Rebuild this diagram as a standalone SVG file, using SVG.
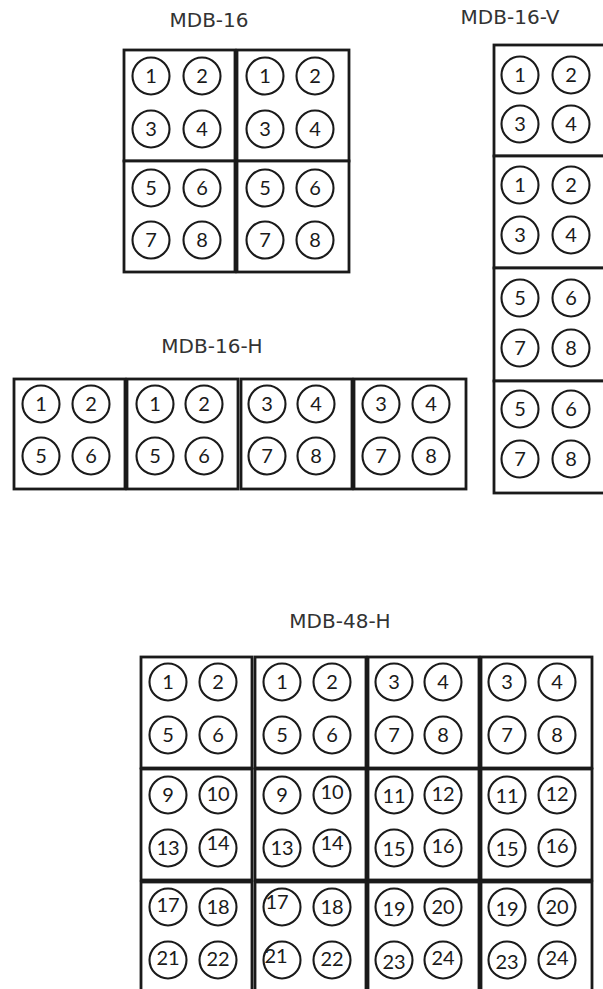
<svg xmlns="http://www.w3.org/2000/svg" width="603" height="989" viewBox="0 0 603 989">
<style>
.box{fill:#fff;stroke:#1a1a1a;stroke-width:2.8}
.c{fill:none;stroke:#1a1a1a;stroke-width:2.1}
.n{font-family:"Lato","Liberation Sans",sans-serif;font-size:20px;fill:#1a1a1a;text-anchor:middle}
.t{font-family:"DejaVu Sans",Verdana,sans-serif;font-size:20px;fill:#333;text-anchor:middle}
</style>
<rect width="603" height="989" fill="#fff"/>
<g id="labels">
<text class="t" x="209" y="27">MDB-16</text>
<text class="t" x="510" y="24">MDB-16-V</text>
<text class="t" x="212" y="353">MDB-16-H</text>
<text class="t" x="340" y="628">MDB-48-H</text>
</g>
<g id="connectors"/>
<!-- MDB-16 -->
<g id="mdb16-tl"><rect class="box" x="124" y="50" width="111" height="111"/>
<circle class="c" cx="151" cy="76" r="18.5"/><circle class="c" cx="202" cy="76" r="18.5"/><circle class="c" cx="151" cy="129" r="18.5"/><circle class="c" cx="202" cy="129" r="18.5"/>
<text class="n" x="151" y="83">1</text><text class="n" x="202" y="83">2</text><text class="n" x="151" y="136">3</text><text class="n" x="202" y="136">4</text></g>
<g id="mdb16-tr"><rect class="box" x="237" y="50" width="112" height="111"/>
<circle class="c" cx="265" cy="76" r="18.5"/><circle class="c" cx="315" cy="76" r="18.5"/><circle class="c" cx="265" cy="129" r="18.5"/><circle class="c" cx="315" cy="129" r="18.5"/>
<text class="n" x="265" y="83">1</text><text class="n" x="315" y="83">2</text><text class="n" x="265" y="136">3</text><text class="n" x="315" y="136">4</text></g>
<g id="mdb16-bl"><rect class="box" x="124" y="161" width="111" height="111"/>
<circle class="c" cx="151" cy="188" r="18.5"/><circle class="c" cx="202" cy="188" r="18.5"/><circle class="c" cx="151" cy="240" r="18.5"/><circle class="c" cx="202" cy="240" r="18.5"/>
<text class="n" x="151" y="195">5</text><text class="n" x="202" y="195">6</text><text class="n" x="151" y="247">7</text><text class="n" x="202" y="247">8</text></g>
<g id="mdb16-br"><rect class="box" x="237" y="161" width="112" height="111"/>
<circle class="c" cx="265" cy="188" r="18.5"/><circle class="c" cx="315" cy="188" r="18.5"/><circle class="c" cx="265" cy="240" r="18.5"/><circle class="c" cx="315" cy="240" r="18.5"/>
<text class="n" x="265" y="195">5</text><text class="n" x="315" y="195">6</text><text class="n" x="265" y="247">7</text><text class="n" x="315" y="247">8</text></g>
<!-- MDB-16-V -->
<g id="mdb16v-1"><rect class="box" x="494" y="45" width="112" height="111"/>
<circle class="c" cx="520" cy="75" r="18.5"/><circle class="c" cx="571" cy="75" r="18.5"/><circle class="c" cx="520" cy="124" r="18.5"/><circle class="c" cx="571" cy="124" r="18.5"/>
<text class="n" x="520" y="82">1</text><text class="n" x="571" y="82">2</text><text class="n" x="520" y="131">3</text><text class="n" x="571" y="131">4</text></g>
<g id="mdb16v-2"><rect class="box" x="494" y="156" width="112" height="112"/>
<circle class="c" cx="520" cy="185" r="18.5"/><circle class="c" cx="571" cy="185" r="18.5"/><circle class="c" cx="520" cy="235" r="18.5"/><circle class="c" cx="571" cy="235" r="18.5"/>
<text class="n" x="520" y="192">1</text><text class="n" x="571" y="192">2</text><text class="n" x="520" y="242">3</text><text class="n" x="571" y="242">4</text></g>
<g id="mdb16v-3"><rect class="box" x="494" y="268" width="112" height="113"/>
<circle class="c" cx="520" cy="298" r="18.5"/><circle class="c" cx="571" cy="298" r="18.5"/><circle class="c" cx="520" cy="348" r="18.5"/><circle class="c" cx="571" cy="348" r="18.5"/>
<text class="n" x="520" y="305">5</text><text class="n" x="571" y="305">6</text><text class="n" x="520" y="355">7</text><text class="n" x="571" y="355">8</text></g>
<g id="mdb16v-4"><rect class="box" x="494" y="381" width="112" height="112"/>
<circle class="c" cx="520" cy="409" r="18.5"/><circle class="c" cx="571" cy="409" r="18.5"/><circle class="c" cx="520" cy="459" r="18.5"/><circle class="c" cx="571" cy="459" r="18.5"/>
<text class="n" x="520" y="416">5</text><text class="n" x="571" y="416">6</text><text class="n" x="520" y="466">7</text><text class="n" x="571" y="466">8</text></g>
<!-- MDB-16-H -->
<g id="mdb16h-1"><rect class="box" x="14" y="379" width="111" height="110"/>
<circle class="c" cx="41" cy="404" r="18.5"/><circle class="c" cx="91" cy="404" r="18.5"/><circle class="c" cx="41" cy="456" r="18.5"/><circle class="c" cx="91" cy="456" r="18.5"/>
<text class="n" x="41" y="411">1</text><text class="n" x="91" y="411">2</text><text class="n" x="41" y="463">5</text><text class="n" x="91" y="463">6</text></g>
<g id="mdb16h-2"><rect class="box" x="127" y="379" width="111" height="110"/>
<circle class="c" cx="155" cy="404" r="18.5"/><circle class="c" cx="204" cy="404" r="18.5"/><circle class="c" cx="155" cy="456" r="18.5"/><circle class="c" cx="204" cy="456" r="18.5"/>
<text class="n" x="155" y="411">1</text><text class="n" x="204" y="411">2</text><text class="n" x="155" y="463">5</text><text class="n" x="204" y="463">6</text></g>
<g id="mdb16h-3"><rect class="box" x="241" y="379" width="111" height="110"/>
<circle class="c" cx="267" cy="404" r="18.5"/><circle class="c" cx="316" cy="404" r="18.5"/><circle class="c" cx="267" cy="456" r="18.5"/><circle class="c" cx="316" cy="456" r="18.5"/>
<text class="n" x="267" y="411">3</text><text class="n" x="316" y="411">4</text><text class="n" x="267" y="463">7</text><text class="n" x="316" y="463">8</text></g>
<g id="mdb16h-4"><rect class="box" x="354" y="379" width="112" height="110"/>
<circle class="c" cx="381" cy="404" r="18.5"/><circle class="c" cx="431" cy="404" r="18.5"/><circle class="c" cx="381" cy="456" r="18.5"/><circle class="c" cx="431" cy="456" r="18.5"/>
<text class="n" x="381" y="411">3</text><text class="n" x="431" y="411">4</text><text class="n" x="381" y="463">7</text><text class="n" x="431" y="463">8</text></g>
<!-- MDB-48-H row 1 -->
<g id="mdb48-r1c1"><rect class="box" x="141" y="657" width="111" height="111"/>
<circle class="c" cx="168" cy="682" r="18.5"/><circle class="c" cx="218" cy="682" r="18.5"/><circle class="c" cx="168" cy="735" r="18.5"/><circle class="c" cx="218" cy="735" r="18.5"/>
<text class="n" x="168" y="689">1</text><text class="n" x="218" y="689">2</text><text class="n" x="168" y="742">5</text><text class="n" x="218" y="742">6</text></g>
<g id="mdb48-r1c2"><rect class="box" x="255" y="657" width="111" height="111"/>
<circle class="c" cx="282" cy="682" r="18.5"/><circle class="c" cx="332" cy="682" r="18.5"/><circle class="c" cx="282" cy="735" r="18.5"/><circle class="c" cx="332" cy="735" r="18.5"/>
<text class="n" x="282" y="689">1</text><text class="n" x="332" y="689">2</text><text class="n" x="282" y="742">5</text><text class="n" x="332" y="742">6</text></g>
<g id="mdb48-r1c3"><rect class="box" x="368" y="657" width="111" height="111"/>
<circle class="c" cx="394" cy="682" r="18.5"/><circle class="c" cx="443" cy="682" r="18.5"/><circle class="c" cx="394" cy="735" r="18.5"/><circle class="c" cx="443" cy="735" r="18.5"/>
<text class="n" x="394" y="689">3</text><text class="n" x="443" y="689">4</text><text class="n" x="394" y="742">7</text><text class="n" x="443" y="742">8</text></g>
<g id="mdb48-r1c4"><rect class="box" x="481" y="657" width="111" height="111"/>
<circle class="c" cx="507" cy="682" r="18.5"/><circle class="c" cx="557" cy="682" r="18.5"/><circle class="c" cx="507" cy="735" r="18.5"/><circle class="c" cx="557" cy="735" r="18.5"/>
<text class="n" x="507" y="689">3</text><text class="n" x="557" y="689">4</text><text class="n" x="507" y="742">7</text><text class="n" x="557" y="742">8</text></g>
<!-- MDB-48-H row 2 -->
<g id="mdb48-r2c1"><rect class="box" x="141" y="769" width="111" height="111"/>
<circle class="c" cx="168" cy="795" r="18.5"/><circle class="c" cx="218" cy="795" r="18.5"/><circle class="c" cx="168" cy="848" r="18.5"/><circle class="c" cx="218" cy="848" r="18.5"/>
<text class="n" x="168" y="802">9</text><text class="n" x="218" y="801">10</text><text class="n" x="168" y="855">13</text><text class="n" x="218" y="850">14</text></g>
<g id="mdb48-r2c2"><rect class="box" x="255" y="769" width="111" height="111"/>
<circle class="c" cx="282" cy="795" r="18.5"/><circle class="c" cx="332" cy="795" r="18.5"/><circle class="c" cx="282" cy="848" r="18.5"/><circle class="c" cx="332" cy="848" r="18.5"/>
<text class="n" x="282" y="802">9</text><text class="n" x="332" y="799">10</text><text class="n" x="282" y="855">13</text><text class="n" x="332" y="850">14</text></g>
<g id="mdb48-r2c3"><rect class="box" x="368" y="769" width="111" height="111"/>
<circle class="c" cx="394" cy="795" r="18.5"/><circle class="c" cx="443" cy="795" r="18.5"/><circle class="c" cx="394" cy="848" r="18.5"/><circle class="c" cx="443" cy="848" r="18.5"/>
<text class="n" x="394" y="803">11</text><text class="n" x="443" y="801">12</text><text class="n" x="394" y="856">15</text><text class="n" x="443" y="853">16</text></g>
<g id="mdb48-r2c4"><rect class="box" x="481" y="769" width="111" height="111"/>
<circle class="c" cx="507" cy="795" r="18.5"/><circle class="c" cx="557" cy="795" r="18.5"/><circle class="c" cx="507" cy="848" r="18.5"/><circle class="c" cx="557" cy="848" r="18.5"/>
<text class="n" x="507" y="803">11</text><text class="n" x="557" y="801">12</text><text class="n" x="507" y="856">15</text><text class="n" x="557" y="853">16</text></g>
<!-- MDB-48-H row 3 -->
<g id="mdb48-r3c1"><rect class="box" x="141" y="882" width="111" height="111"/>
<circle class="c" cx="168" cy="907" r="18.5"/><circle class="c" cx="218" cy="907" r="18.5"/><circle class="c" cx="168" cy="960" r="18.5"/><circle class="c" cx="218" cy="960" r="18.5"/>
<text class="n" x="168" y="912">17</text><text class="n" x="218" y="914">18</text><text class="n" x="168" y="965">21</text><text class="n" x="218" y="966">22</text></g>
<g id="mdb48-r3c2"><rect class="box" x="255" y="882" width="111" height="111"/>
<circle class="c" cx="282" cy="907" r="18.5"/><circle class="c" cx="332" cy="907" r="18.5"/><circle class="c" cx="282" cy="960" r="18.5"/><circle class="c" cx="332" cy="960" r="18.5"/>
<text class="n" x="277" y="909">17</text><text class="n" x="332" y="914">18</text><text class="n" x="276" y="963">21</text><text class="n" x="332" y="966">22</text></g>
<g id="mdb48-r3c3"><rect class="box" x="368" y="882" width="111" height="111"/>
<circle class="c" cx="394" cy="907" r="18.5"/><circle class="c" cx="443" cy="907" r="18.5"/><circle class="c" cx="394" cy="960" r="18.5"/><circle class="c" cx="443" cy="960" r="18.5"/>
<text class="n" x="394" y="916">19</text><text class="n" x="443" y="914">20</text><text class="n" x="394" y="969">23</text><text class="n" x="443" y="965">24</text></g>
<g id="mdb48-r3c4"><rect class="box" x="481" y="882" width="111" height="111"/>
<circle class="c" cx="507" cy="907" r="18.5"/><circle class="c" cx="557" cy="907" r="18.5"/><circle class="c" cx="507" cy="960" r="18.5"/><circle class="c" cx="557" cy="960" r="18.5"/>
<text class="n" x="507" y="916">19</text><text class="n" x="557" y="914">20</text><text class="n" x="507" y="969">23</text><text class="n" x="557" y="965">24</text></g>
</svg>
